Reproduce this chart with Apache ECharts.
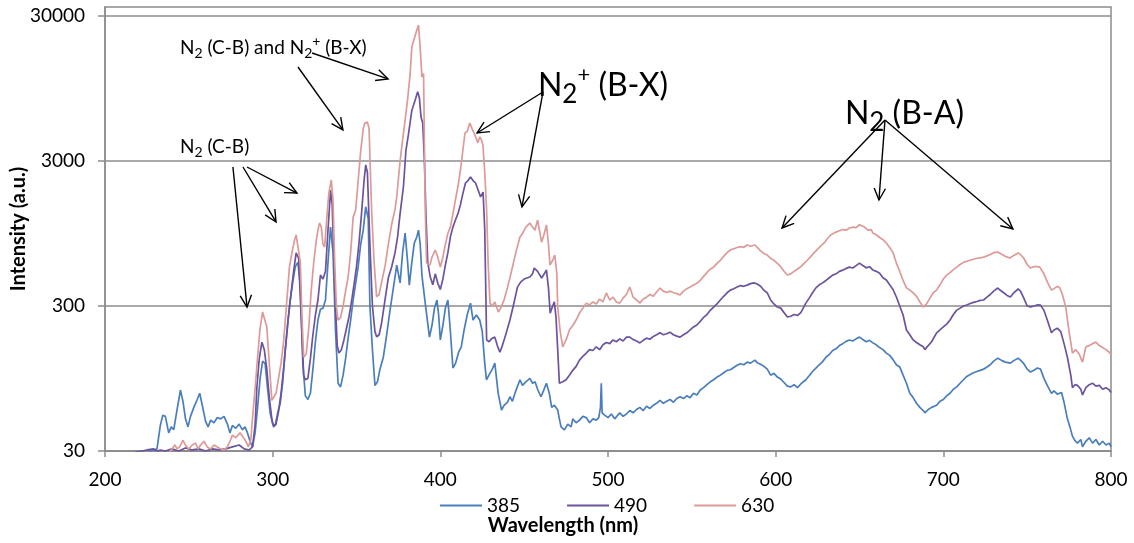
<!DOCTYPE html>
<html>
<head>
<meta charset="utf-8">
<script src="https://cdn.jsdelivr.net/npm/echarts@6/dist/echarts.min.js"></script>
<style>
html,body{margin:0;padding:0;background:#fff}
#chart{width:1134px;height:543px}
</style>
</head>
<body>
<div id="chart"></div>
<script>
// Emission spectra (wavelength nm, intensity a.u.) for three conditions
const seriesNames = ['385', '490', '630'];
const seriesColors = ['#4a7ebb', '#6b539e', '#dc9a98'];

const spec385 = [
  [226,30],[229,30.5],[231,31],[233,45],[234.5,53],[236,52],[238,40],[239.5,44],[241,42],[243,58],
  [245,79],[246.5,66],[248,50],[249.5,44],[251,52],[253,60],[255,68],[256.5,75],[258,62],[260,48],
  [261.5,44],[263,49],[265,47],[267,51],[269,50],[271,52],[273,46],[274.5,40],[276,45],[278,43],
  [280,46],[282,42],[283.5,44],[285,40],[286.5,35],[288,32],[289.5,40],[291,60],[292.5,95],[294,125],
  [295.5,120],[297,80],[298.5,55],[300,46],[301.5,45],[303,55],[304.5,64],[306,90],[307.5,150],[309,230],
  [310.5,330],[312,440],[313.5,560],[315,600],[316.5,420],[318,120],[319.5,72],[321,68],[322.5,75],[324,110],
  [325.5,170],[327,240],[328.5,285],[330,290],[331.5,330],[333,600],[334.5,1050],[336,700],[337.5,200],[339,88],
  [340.5,83],[342,100],[343.5,130],[345,180],[346.5,240],[348,330],[349.5,430],[351,560],[352.5,800],[354,1000],
  [355.5,1450],[357,1200],[358,300],[359.5,150],[361,85],[362.5,90],[364,110],[366,133],[368,190],[370,281],
  [372,400],[374,574],[376,433],[377.5,700],[379,956],[380.5,600],[381.5,418],[383,600],[384.5,816],[386,900],
  [387,1000],[388,800],[389,491],[390.5,350],[392,252],[393.5,183],[395,220],[396.5,290],[398,330],[399,260],
  [400,175],[401.5,220],[403,290],[404.5,330],[406,200],[407.5,112],[409,120],[411,145],[412.5,157],[414,200],
  [416,260],[418,314],[419.5,240],[421.5,260],[423.5,240],[425,200],[426.5,120],[427.5,93],[429,100],[431,110],
  [432.5,121],[434.5,75],[436.5,57.5],[438,62],[440,65],[441.5,71],[443,66],[445,78],[447.5,93],[449,85],
  [451,90],[453.4,95],[455,88],[456.5,90],[458,80],[460,71],[461.5,78],[463.3,88],[465,75],[466.4,60],
  [468,62],[470,57.5],[471,50],[472,44],[474,42],[476,46],[478,44],[479,50],[481,47],[483,49],
  [485,52],[487,51],[489,47],[491,50],[493,49],[494.5,51],[495.5,60],[496,88],[496.5,55],[498,53],
  [500,51],[502,54],[504,50],[507,55],[509,52],[511,54],[513,57],[515,55],[517,58],[519,60],
  [521,57],[523,61],[525,59],[527,62],[529,64],[531,67],[533,64],[535,66],[537,68],[539,65],
  [541,69],[543,71],[545,69],[547,72],[549,70],[551,75],[553,73],[555,79],[557,82],[559,86],
  [561,90],[563,93],[565,97],[567,100],[569,104],[571,108],[573,109],[575,113],[577,117],[579,120],
  [581,118],[583,123],[585,121],[587.6,127],[589,122],[591,119],[593,115],[595,110],[597,100],[599,103],
  [601,97],[603,94],[605,89],[607,84],[609,83],[611,86],[613,82],[615,87],[618,93],[620,99],
  [622,106],[624,112],[626,118],[628,124],[630,133],[632,139],[634,148],[636,152],[638,160],[640,165],
  [642,171],[644,175],[646,172],[648,178],[650,183],[652,176],[654,170],[656,174],[658,167],[660,162],
  [662,155],[664,150],[666,142],[668,137],[670,128],[672,118],[674,114],[676,100],[678,88],[680,75],
  [682,70],[684,64],[686,60],[688,57],[689,55],[691,58],[693,60],[696,62],[698,66],[700,68],
  [702,72],[704,75],[706,80],[708,83],[710,88],[712,93],[714,98],[716,101],[718,104],[720,106],
  [722,108],[724,110],[726,114],[728,118],[730,125],[732.5,131],[735,126],[737,123],[740,121],[742,126],
  [744.6,131],[746,127],[748,120],[750,110],[752,105],[754,108],[756,112],[758,110],[760,95],[762,85],
  [764.5,75],[766,78],[768,74],[770.5,76],[772,65],[774,50],[775.5,44],[777,38],[778.4,35.5],[780,34],
  [782,36],[783,32],[785,35],[787,37],[789,34],[791,36],[793,33],[795,35],[797,33],[799,34],[800,32]
];

const spec490 = [
  [218,29.5],[222,30],[225,30.5],[229,31],[231,30],[233,30.5],[236,30],[240,31],[244,30],[248,31.5],
  [252,30.5],[256,31],[260,30],[264,31],[268,30.5],[272,31],[276,32],[280,33],[283,31],[286,30.5],
  [288,32],[289.5,45],[290.6,83],[292,130],[293.6,169],[295,150],[296.5,110],[298,70],[299.5,50],[300.5,44],
  [302,46],[303.5,56],[305,75],[306.5,110],[308,170],[309.5,260],[311,370],[312.5,520],[314,697],[315.5,640],
  [317,250],[318.5,100],[319.5,93],[321,95],[322.5,130],[324,190],[325.5,260],[327,330],[328.5,491],[330,460],
  [331.5,520],[333,1000],[334.5,1890],[335.5,1500],[337,400],[338.5,160],[339.5,142],[341,150],[342.5,175],[344,210],
  [345.5,252],[347,320],[348.5,420],[350,560],[351.5,816],[353,1300],[354.5,2200],[355.5,2820],[356.5,2500],[358,800],
  [359.5,300],[361,200],[362,184],[363.5,190],[365,230],[367,330],[369,470],[371,560],[373,700],[374.5,900],
  [376,1300],[378,2000],[379.5,3570],[381,4600],[383,6700],[385,7900],[386.5,9000],[387.5,8200],[388.5,6000],[389.5,5480],
  [390.5,3000],[391.5,1200],[392.5,600],[394,475],[395.5,420],[397,500],[398.5,430],[400,390],[401.5,460],[403,574],
  [404.5,700],[406,900],[407.5,1050],[409,1175],[410.5,1300],[412,1500],[413.5,1800],[415,2115],[416.5,2200],[418,2330],
  [419.5,2200],[421,2115],[422.5,1900],[424,1694],[425.5,1830],[426.5,1000],[427.6,175],[429,170],[430.5,178],[432.5,183],
  [434,160],[435.5,144],[437,160],[439,190],[441.5,240],[443.5,300],[446,405],[448,440],[450,460],[452,470],
  [453.4,475],[455,500],[456,548],[458,520],[460.4,468],[462,500],[463.3,531],[464.5,400],[465.5,268],[467,300],
  [468,320],[469,250],[470,150],[471,88],[473,90],[475,93],[477,100],[479,108],[481,115],[483,127],
  [485,135],[487,142],[489,150],[491,148],[493,157],[495,150],[497,162],[499,168],[501,165],[503,175],
  [505,170],[507,178],[509,172],[511,183],[513,183],[515,176],[517,172],[519,167],[521,174],[523,180],
  [525,177],[527,185],[529,190],[531,196],[533,190],[535,193],[537,198],[539,190],[541,186],[543,183],
  [545,190],[547,196],[549,205],[551,215],[553,222],[555,235],[557,250],[559,262],[561,280],[563,295],
  [565,310],[567,330],[569,350],[571,370],[573,386],[575,395],[577,405],[579,415],[581,410],[583,418],
  [585,428],[587,433],[589,425],[591,410],[593,385],[595,369],[597,330],[599,310],[601,295],[603,290],
  [605,270],[607,252],[609,255],[611,262],[613,258],[615,270],[618,314],[620,340],[622,370],[624,400],
  [626,420],[628,433],[630,450],[632,470],[634,490],[636,500],[638,520],[640,530],[642,545],[644,556],
  [646,548],[648,570],[650,593],[652,570],[654,550],[656,560],[658,531],[660,520],[662,505],[664,470],
  [666,453],[668,420],[670,390],[672,346],[674,300],[676,260],[678,205],[680,190],[682,175],[684,168],
  [686,162],[688,157],[689,150],[691,160],[693,170],[696,196],[698,205],[700,215],[702,225],[704,240],
  [706,262],[708,281],[710,290],[712,300],[714,305],[716,312],[718,318],[720,322],[722,328],[724,330],
  [726,345],[728,360],[730,380],[732.5,399],[734,385],[736,370],[738,355],[740,346],[742,370],[744.6,393],
  [746,380],[748,340],[750,300],[752,296],[754,300],[756,305],[758,304],[760,280],[762,240],[764.5,196],
  [766,205],[768,211],[770,200],[772,165],[774,133],[776,100],[777,82],[778.5,86],[780,85],[782,80],
  [783,73],[785,82],[787,86],[789,88],[791,84],[793,85],[795,80],[797,82],[799,79],[800,76]
];

const spec630 = [
  [238,29],[240,31],[241.7,33],[243,31],[244.5,32],[246.5,35.5],[248,33],[250,31],[252,33],[254,34],
  [255.5,31],[257,33],[259,35],[261,32],[263,31],[265,33],[267,32],[269,31],[271,30.5],[273,32],
  [275,36],[276,38.6],[278,37],[280.5,40],[282,38],[284,35],[285.5,32],[287,36],[288,51],[289.5,80],
  [291,133],[292.5,210],[294,273],[295,265],[296.5,215],[298,120],[299.5,67],[300.5,65],[302,75],[303.5,95],
  [305,121],[306.5,170],[308,280],[310,556],[311.5,700],[313,850],[314,928],[315,920],[316.5,600],[317.5,250],
  [318.5,133],[320,140],[321.5,210],[323,386],[324.5,600],[326,850],[327,1000],[328,1120],[329,1050],[330,800],
  [331,765],[332,1100],[333.5,1800],[335,2220],[336,1600],[337,600],[338,300],[339,240],[340.5,250],[342,300],
  [343.5,380],[345,475],[346.5,700],[348,1230],[349.5,1376],[351,2200],[352.5,3500],[354,5000],[355,5480],[356.5,5560],
  [357.5,5000],[359,1376],[360.5,600],[362,348],[363.5,360],[365,440],[367,560],[369,800],[371,1100],[373,1400],
  [374,1700],[376,3000],[377.5,4200],[379,5740],[380.5,8000],[382,12000],[383,18400],[384.5,21000],[386,24000],[387,26000],
  [388,18000],[389,11400],[390,12000],[391,1376],[391.8,593],[393.8,574],[395,650],[397,730],[398.5,650],[400,556],
  [401.5,650],[403,800],[404.5,950],[406,1050],[407.5,1300],[409,1617],[410.5,2000],[412,2600],[413.5,3600],[414.7,4680],
  [416,4800],[417.6,5480],[419,5000],[420.6,4530],[422.4,4000],[423.5,4400],[424.5,4200],[425.4,3870],[426.5,2500],[427.6,1376],
  [428.5,600],[429.6,314],[431,300],[432.5,320],[434.6,273],[436,290],[438,330],[440,400],[441.5,470],[443,556],
  [445,700],[447.5,898],[449,950],[451,1050],[453.4,1120],[455,1050],[456.4,1000],[458,1175],[460.4,827],[462,950],
  [463.3,1087],[464.5,800],[465.4,574],[467,620],[468.3,674],[469.5,500],[470,295],[471.5,200],[473,157],[475,175],
  [477,205],[479,220],[481,240],[483,268],[485,290],[487,314],[489,305],[491,320],[493,310],[495,335],
  [497,320],[499,369],[501,330],[503,345],[505,320],[507,314],[509,340],[511,360],[513,405],[515,345],
  [517,330],[519,314],[521,335],[523,345],[525,360],[527,350],[529,375],[531,399],[533,380],[535,372],
  [537,380],[539,370],[541,365],[543,357],[545,380],[547,395],[549,405],[551,418],[553,430],[555,450],
  [557,480],[559,510],[561,540],[563,556],[565,590],[567,620],[569,660],[571,700],[573,730],[575,745],
  [577,760],[579,770],[581,762],[583,790],[585,775],[587.6,790],[589,760],[591,720],[593,690],[595,674],
  [597,640],[599,620],[601,590],[603,560],[605,520],[607,491],[609,500],[611,520],[613,540],[615,560],
  [617,590],[619,623],[621,660],[623,700],[625,740],[627,780],[629,820],[631,880],[633,930],[634,956],
  [636,970],[638,990],[640,1010],[642,1000],[644,1035],[646,1050],[648,1040],[650,1090],[651,1120],[653,1050],
  [655,1000],[657,1010],[658,956],[660,930],[662,890],[664,860],[666,816],[668,760],[670,700],[672,593],
  [674,520],[676,450],[678,400],[680,386],[682,370],[684,350],[686,320],[688,295],[690,310],[692,340],
  [694,370],[696,386],[698,420],[700,460],[702,490],[704,510],[706,535],[708,556],[710,580],[712,600],
  [714,610],[716,620],[718,630],[720,640],[722,645],[724,651],[726,665],[728,680],[730,700],[732.5,706],
  [735,680],[737,660],[739.7,643],[742,670],[744.6,697],[746,680],[748,640],[750,580],[752,548],[754,560],
  [756,560],[757.5,556],[760,500],[762,440],[764.5,386],[766,395],[768,410],[769.5,399],[771,360],[773,295],
  [775,200],[777,142],[779,150],[781,140],[783,123],[785,157],[787,160],[789,165],[791,169],[793,160],
  [795,155],[797,150],[799,144],[800,138]
];

const yTickValues = [30, 300, 3000, 30000];

// Band labels, anchored in data space (left edge, vertical middle of the capital N)
const bandLabels = [
  { text: '{n|N}{s|2}{n| (C-B) and N}{s|2}{p|+}{n| (B-X)}', at: [244.7, 18190], size: 'small' },
  { text: '{n|N}{s|2}{n| (C-B)}', at: [244.7, 3750], size: 'small' },
  { text: '{n|N}{s|2}{p|+}{n| (B-X)}', at: [458.2, 9950], size: 'big' },
  { text: '{n|N}{s|2}{n| (B-A)}', at: [641.3, 6330], size: 'big' }
];

// Arrows from each label to the band heads they mark: [from, to]
const arrows = [
  [[315.1, 13350], [341.9, 4910]],
  [[323.5, 16670], [368.8, 11040]],
  [[276.3, 2727], [284.7, 295]],
  [[282.3, 2727], [302.0, 1139]],
  [[284.7, 2727], [314.5, 1804]],
  [[461.2, 8970], [421.9, 4680]],
  [[461.2, 8970], [448.7, 1446]],
  [[665.2, 5754], [603.8, 1035]],
  [[665.2, 5754], [661.6, 1615]],
  [[665.2, 5754], [741.5, 1019]]
];

const FONT = 'Lato, "Open Sans", sans-serif';
const GRID_GRAY = '#8c8c8c';
const dataSets = [spec385, spec490, spec630];

// Match a (possibly float-noisy) tick value against the labelled decades
function tickLabel(v) {
  let val = Number(v);
  let hit = yTickValues.find(t => Math.abs(val - t) / t < 1e-3);
  if (hit === undefined && val < 10) {
    val = Math.pow(10, val);
    hit = yTickValues.find(t => Math.abs(val - t) / t < 1e-3);
  }
  return hit === undefined ? '' : String(hit);
}

const chart = echarts.init(document.getElementById('chart'), null, { renderer: 'canvas' });

chart.setOption({
  animation: false,
  backgroundColor: '#fff',
  textStyle: { fontFamily: FONT, color: '#000' },
  grid: {
    left: 105, right: 23, top: 7, bottom: 92,
    containLabel: false, outerBoundsMode: 'none',
    show: true, borderColor: GRID_GRAY, borderWidth: 1.5
  },
  legend: {
    data: seriesNames,
    left: 435, top: 491,
    icon: 'rect', itemWidth: 42, itemHeight: 2, itemGap: 47,
    textStyle: { fontSize: 19, fontFamily: FONT, color: '#000' }
  },
  xAxis: {
    type: 'value', min: 200, max: 800, interval: 100,
    name: 'Wavelength (nm)', nameLocation: 'middle', nameGap: 65, nameMoveOverlap: false,
    nameTextStyle: { fontSize: 20, fontWeight: 'bold', fontFamily: FONT, color: '#000', padding: [0, 90, 0, 0] },
    axisLine: { lineStyle: { color: GRID_GRAY, width: 1.5 } },
    axisTick: { show: true, length: 6, lineStyle: { color: GRID_GRAY, width: 1.5 } },
    axisLabel: { fontSize: 19, fontFamily: FONT, color: '#000', margin: 19 },
    splitLine: { show: false }
  },
  yAxis: {
    type: 'log', logBase: 10, min: 30, max: 34600, interval: 1,
    name: 'Intensity (a.u.)', nameLocation: 'middle', nameGap: 76, nameRotate: 90, nameMoveOverlap: false,
    nameTextStyle: { fontSize: 20, fontWeight: 'bold', fontFamily: FONT, color: '#000' },
    axisLine: { show: true, lineStyle: { color: GRID_GRAY, width: 1.5 } },
    axisTick: { show: true, length: 7, customValues: yTickValues, lineStyle: { color: GRID_GRAY, width: 1.5 } },
    axisLabel: {
      fontSize: 19, fontFamily: FONT, color: '#000', margin: 20,
      customValues: yTickValues,
      formatter: tickLabel
    },
    splitLine: { show: true, lineStyle: { color: GRID_GRAY, width: 1.5 } }
  },
  series: seriesNames.map((name, i) => ({
    name: name,
    type: 'line',
    data: dataSets[i],
    showSymbol: false,
    symbol: 'none',
    clip: true,
    color: seriesColors[i],
    lineStyle: { color: seriesColors[i], width: 1.7 }
  }))
});

// Annotation layer: labels and arrows placed through the chart's own coordinate conversion
function toPx(pt) { return chart.convertToPixel({ gridIndex: 0 }, pt); }

const richSmall = {
  n: { fontSize: 19, fontFamily: FONT, lineHeight: 26, verticalAlign: 'middle', fill: '#000' },
  s: { fontSize: 14, fontFamily: FONT, lineHeight: 12, verticalAlign: 'bottom', fill: '#000' },
  p: { fontSize: 14, fontFamily: FONT, lineHeight: 12, verticalAlign: 'top', fill: '#000' }
};
const richBig = {
  n: { fontSize: 32, fontFamily: FONT, lineHeight: 44, verticalAlign: 'middle', fill: '#000' },
  s: { fontSize: 26, fontFamily: FONT, lineHeight: 22, verticalAlign: 'bottom', fill: '#000' },
  p: { fontSize: 22, fontFamily: FONT, lineHeight: 39, verticalAlign: 'top', fill: '#000' }
};

const graphics = [];
bandLabels.forEach(lb => {
  const p = toPx(lb.at);
  graphics.push({
    type: 'text', x: p[0], y: p[1], z: 100,
    style: {
      text: lb.text,
      rich: lb.size === 'big' ? richBig : richSmall,
      align: 'left', verticalAlign: 'middle', fill: '#000', font: (lb.size === 'big' ? 32 : 19) + 'px ' + FONT
    }
  });
});

arrows.forEach(a => {
  const p0 = toPx(a[0]), p1 = toPx(a[1]);
  const ang = Math.atan2(p1[1] - p0[1], p1[0] - p0[0]);
  const L = 13, h = 0.45;
  const l = [p1[0] - L * Math.cos(ang - h), p1[1] - L * Math.sin(ang - h)];
  const r = [p1[0] - L * Math.cos(ang + h), p1[1] - L * Math.sin(ang + h)];
  graphics.push({ type: 'line', z: 100, shape: { x1: p0[0], y1: p0[1], x2: p1[0], y2: p1[1] }, style: { stroke: '#000', lineWidth: 1.4 } });
  graphics.push({ type: 'polyline', z: 100, shape: { points: [l, p1, r] }, style: { stroke: '#000', lineWidth: 1.4, fill: null } });
});

chart.setOption({ graphic: graphics });
</script>
</body>
</html>
